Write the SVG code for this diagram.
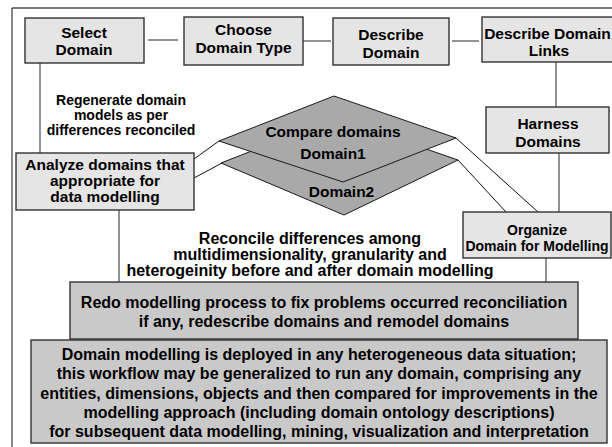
<svg xmlns="http://www.w3.org/2000/svg" width="612" height="447" viewBox="0 0 612 447">
  <defs>
    <style>
      .box { fill: #e5e5e5; stroke: #333333; stroke-width: 1.4; }
      .panel { fill: #c9c9c9; stroke: #333333; stroke-width: 1.4; }
      .diamond { fill: #a9a9a9; stroke: #1a1a1a; stroke-width: 1; }
      .link { stroke: #4a4a4a; stroke-width: 1.2; fill: none; }
      .thin { stroke: #111; stroke-width: 1; fill: none; }
      text { font-family: "Liberation Sans", Arial, sans-serif; font-weight: bold; fill: #000; text-anchor: middle; }
      .lbl { font-size: 15.5px; }
      .small { font-size: 14px; }
      .note { font-size: 14px; }
      .big { font-size: 16px; }
    </style>
  </defs>
  <rect width="612" height="447" fill="#ffffff"/>

  <!-- outer frame -->
  <line x1="12" y1="8" x2="612" y2="8" stroke="#7a7a7a" stroke-width="2"/>
  <line x1="12" y1="8" x2="12" y2="447" stroke="#111" stroke-width="1"/>

  <!-- connectors -->
  <g id="connectors">
    <line class="link" x1="148" y1="40" x2="178" y2="40"/>
    <line class="link" x1="303" y1="41" x2="331" y2="41"/>
    <line class="link" x1="452" y1="41" x2="479" y2="41"/>
    <line class="link" x1="556" y1="62" x2="556" y2="107"/>
    <line class="link" x1="559" y1="153" x2="559" y2="212"/>
    <line class="link" x1="40" y1="63" x2="40" y2="153"/>
    <line class="link" x1="119" y1="210" x2="119" y2="282"/>
    <line class="link" x1="546" y1="258" x2="546" y2="282"/>
    <line class="thin" x1="194" y1="159" x2="219" y2="141"/>
    <line class="thin" x1="194" y1="178" x2="222" y2="163"/>
    <line class="thin" x1="456" y1="138" x2="538" y2="212"/>
    <line class="thin" x1="458" y1="160" x2="506" y2="212"/>
  </g>

  <g id="select-domain">
    <rect class="box" x="25" y="18" width="119" height="45"/>
    <text class="lbl" x="84" y="37.5">Select</text>
    <text class="lbl" x="84" y="55">Domain</text>
  </g>

  <g id="choose-domain-type">
    <rect class="box" x="184" y="17" width="119" height="48"/>
    <text class="lbl" x="243.5" y="35">Choose</text>
    <text class="lbl" x="243.5" y="52.5">Domain Type</text>
  </g>

  <g id="describe-domain">
    <rect class="box" x="333" y="18" width="116" height="47"/>
    <text class="lbl" x="391" y="40">Describe</text>
    <text class="lbl" x="391" y="58">Domain</text>
  </g>

  <g id="describe-domain-links">
    <rect class="box" x="482" y="17" width="140" height="45"/>
    <text class="lbl" x="547.5" y="38.5">Describe Domain</text>
    <text class="lbl" x="549" y="56">Links</text>
  </g>

  <g id="harness-domains">
    <rect class="box" x="486" y="107" width="123" height="46"/>
    <text class="lbl" x="548" y="128.5">Harness</text>
    <text class="lbl" x="548" y="146.5">Domains</text>
  </g>

  <g id="regenerate-note">
    <text class="note" x="121" y="105">Regenerate domain</text>
    <text class="note" x="121" y="120">models as per</text>
    <text class="note" x="121" y="135">differences reconciled</text>
  </g>

  <g id="analyze-domains">
    <rect class="box" x="16" y="153" width="178" height="57"/>
    <text class="lbl" x="105" y="170">Analyze domains that</text>
    <text class="lbl" x="105" y="186">appropriate for</text>
    <text class="lbl" x="105" y="202">data modelling</text>
  </g>

  <g id="compare-domains">
    <polygon class="diamond" points="221,163 336,118 458,160 344,215"/>
    <polygon class="diamond" points="219,141 334,96 456,138 343,182"/>
    <text class="lbl" x="333" y="137">Compare domains</text>
    <text class="lbl" x="333" y="158.5">Domain1</text>
    <text class="lbl" x="341.5" y="197">Domain2</text>
  </g>

  <g id="organize-domain">
    <rect class="box" x="463" y="212" width="148" height="46"/>
    <text class="small" x="537" y="235">Organize</text>
    <text class="small" x="537" y="251">Domain for Modelling</text>
  </g>

  <g id="reconcile-note">
    <text class="big" x="310" y="244">Reconcile differences among</text>
    <text class="big" x="310" y="260">multidimensionality, granularity and</text>
    <text class="big" x="310" y="276">heterogeinity before and after domain modelling</text>
  </g>

  <g id="redo-modelling">
    <rect class="panel" x="70" y="282" width="508" height="57"/>
    <text class="big" x="324" y="308">Redo modelling process to fix problems occurred reconciliation</text>
    <text class="big" x="324" y="327">if any, redescribe domains and remodel domains</text>
  </g>

  <g id="deployment-summary">
    <rect class="panel" x="31" y="340" width="576" height="103"/>
    <text class="big" x="319" y="360">Domain modelling is deployed in any heterogeneous data situation;</text>
    <text class="big" x="319" y="379">this workflow may be generalized to run any domain, comprising any</text>
    <text class="big" x="319" y="399">entities, dimensions, objects and then compared for improvements in the</text>
    <text class="big" x="319" y="418">modelling approach (including domain ontology descriptions)</text>
    <text class="big" x="319" y="437">for subsequent data modelling, mining, visualization and interpretation</text>
  </g>
</svg>
